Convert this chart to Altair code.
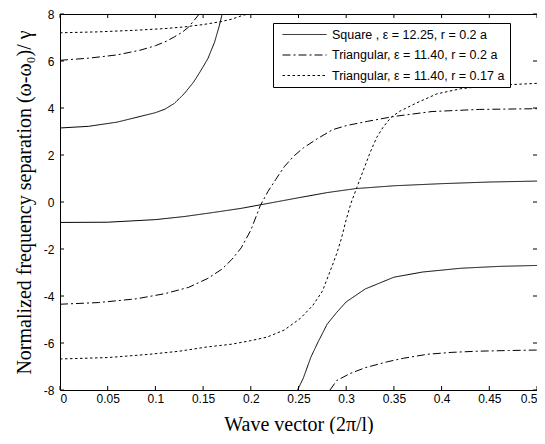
import altair as alt
import pandas as pd

SERIES = [
    "Square , ε = 12.25, r = 0.2 a",
    "Triangular, ε = 11.40, r = 0.2 a",
    "Triangular, ε = 11.40, r = 0.17 a",
]
XTICKS = [0, 0.05, 0.1, 0.15, 0.2, 0.25, 0.3, 0.35, 0.4, 0.45, 0.5]
YTICKS = [-8, -6, -4, -2, 0, 2, 4, 6, 8]

# Square lattice branches
sq_u_x = [0, 0.03, 0.06, 0.084, 0.1, 0.11, 0.12, 0.13, 0.14, 0.147, 0.155, 0.162, 0.167, 0.17]
sq_u_y = [3.15, 3.22, 3.4, 3.64, 3.8, 3.95, 4.2, 4.6, 5.1, 5.55, 6.1, 6.8, 7.5, 8.0]
sq_m_x = [0, 0.05, 0.1, 0.13, 0.16, 0.19, 0.21, 0.23, 0.25, 0.28, 0.31, 0.35, 0.4, 0.45, 0.5]
sq_m_y = [-0.87, -0.86, -0.75, -0.62, -0.45, -0.27, -0.12, 0.03, 0.18, 0.4, 0.57, 0.69, 0.78, 0.85, 0.89]
sq_l_x = [0.249, 0.255, 0.263, 0.27, 0.28, 0.29, 0.3, 0.32, 0.35, 0.38, 0.42, 0.46, 0.5]
sq_l_y = [-8.0, -7.5, -6.6, -6.0, -5.2, -4.7, -4.25, -3.7, -3.2, -2.98, -2.82, -2.74, -2.7]

# Triangular r = 0.2a branches
t2_u_x = [0, 0.03, 0.06, 0.085, 0.1, 0.112, 0.12, 0.128, 0.135, 0.141, 0.146]
t2_u_y = [6.03, 6.12, 6.26, 6.47, 6.65, 6.85, 7.03, 7.22, 7.45, 7.75, 8.0]
t2_m_x = [0, 0.04, 0.08, 0.11, 0.135, 0.155, 0.17, 0.18, 0.19, 0.2, 0.21, 0.218,
          0.226, 0.235, 0.245, 0.255, 0.27, 0.286, 0.3, 0.322, 0.35, 0.39, 0.44, 0.5]
t2_m_y = [-4.35, -4.28, -4.12, -3.9, -3.63, -3.25, -2.85, -2.45, -1.95, -1.2, -0.15, 0.45,
          0.95, 1.5, 1.95, 2.3, 2.7, 3.08, 3.25, 3.43, 3.64, 3.85, 3.94, 3.97]
t2_l_x = [0.283, 0.29, 0.304, 0.32, 0.343, 0.36, 0.385, 0.41, 0.437, 0.47, 0.5]
t2_l_y = [-8.0, -7.6, -7.3, -7.05, -6.8, -6.65, -6.48, -6.4, -6.35, -6.32, -6.3]

# Triangular r = 0.17a branches
t17_u_x = [0, 0.04, 0.08, 0.11, 0.13, 0.15, 0.168, 0.18, 0.192, 0.198]
t17_u_y = [7.2, 7.24, 7.31, 7.38, 7.45, 7.55, 7.67, 7.78, 7.95, 8.0]
t17_m_x = [0, 0.05, 0.094, 0.125, 0.154, 0.18, 0.2, 0.217, 0.235, 0.252, 0.265, 0.275,
           0.285, 0.29, 0.295, 0.3, 0.305, 0.311, 0.318, 0.325, 0.332, 0.339, 0.347,
           0.356, 0.374, 0.395, 0.42, 0.45, 0.5]
t17_m_y = [-6.68, -6.62, -6.48, -6.35, -6.17, -6.05, -5.9, -5.75, -5.45, -4.95, -4.4, -3.8,
           -2.75, -2.2, -1.55, -0.75, -0.05, 0.6, 1.35, 2.1, 2.75, 3.2, 3.6,
           3.86, 4.22, 4.6, 4.82, 4.95, 5.05]

branches = [
    (SERIES[0], "sq_u", sq_u_x, sq_u_y),
    (SERIES[0], "sq_m", sq_m_x, sq_m_y),
    (SERIES[0], "sq_l", sq_l_x, sq_l_y),
    (SERIES[1], "t2_u", t2_u_x, t2_u_y),
    (SERIES[1], "t2_m", t2_m_x, t2_m_y),
    (SERIES[1], "t2_l", t2_l_x, t2_l_y),
    (SERIES[2], "t17_u", t17_u_x, t17_u_y),
    (SERIES[2], "t17_m", t17_m_x, t17_m_y),
]
rows = []
for s, b, xs, ys in branches:
    for i, (x, y) in enumerate(zip(xs, ys)):
        rows.append({"series": s, "branch": b, "x": x, "y": y, "order": i})
df = pd.DataFrame(rows)

W, H = 477, 376
TL = 4
xscale = alt.Scale(domain=[0, 0.5], nice=False, zero=False)
yscale = alt.Scale(domain=[-8, 8], nice=False, zero=False)
x_axis = alt.Axis(values=XTICKS, title="Wave vector (2π/l)", format="~g",
                  ticks=False, tickSize=0, labelPadding=3, titlePadding=10)
y_axis = alt.Axis(values=YTICKS, title="Normalized frequency separation (ω-ω₀)/ γ",
                  labelExpr="datum.value + ''", ticks=False, tickSize=0,
                  labelPadding=6, titlePadding=9)

lines = alt.Chart(df).mark_line(strokeWidth=1, color="black", clip=True).encode(
    x=alt.X("x:Q", scale=xscale, axis=x_axis),
    y=alt.Y("y:Q", scale=yscale, axis=y_axis),
    strokeDash=alt.StrokeDash(
        "series:N",
        scale=alt.Scale(domain=SERIES, range=[[1, 0], [8, 3, 2, 3], [2.5, 2.5]]),
        legend=alt.Legend(orient="none", legendX=213, legendY=9, title=None,
                          fillColor="white", strokeColor="black", padding=5,
                          symbolType="stroke", symbolSize=1936, symbolStrokeWidth=1,
                          symbolStrokeColor="black", symbolOffset=4,
                          clipHeight=13, rowPadding=7.5,
                          labelFont="Liberation Sans", labelFontSize=12.5, labelOffset=5,
                          labelLimit=400, labelColor="black"),
    ),
    detail="branch:N",
    order="order:Q",
)

xt = pd.DataFrame({"x": XTICKS})
yt = pd.DataFrame({"y": YTICKS})
tick_x = alt.X("x:Q", scale=xscale, axis=x_axis)
tick_y = alt.Y("y:Q", scale=yscale, axis=y_axis)
bottom_ticks = alt.Chart(xt).mark_rule(color="black", strokeWidth=1).encode(
    x=tick_x, y=alt.value(H), y2=alt.value(H - TL))
top_ticks = alt.Chart(xt).mark_rule(color="black", strokeWidth=1).encode(
    x=tick_x, y=alt.value(0), y2=alt.value(TL))
left_ticks = alt.Chart(yt).mark_rule(color="black", strokeWidth=1).encode(
    y=tick_y, x=alt.value(0), x2=alt.value(TL))
right_ticks = alt.Chart(yt).mark_rule(color="black", strokeWidth=1).encode(
    y=tick_y, x=alt.value(W), x2=alt.value(W - TL))

chart = alt.layer(lines, bottom_ticks, top_ticks, left_ticks, right_ticks).properties(
    width=W, height=H,
    autosize=alt.AutoSizeParams(type="none"),
    padding={"left": 52, "top": 6, "right": 0, "bottom": 44},
).configure_view(
    stroke="black", strokeWidth=1
).configure_axis(
    domain=False, grid=False,
    labelFont="Liberation Sans", labelFontSize=12, labelColor="black",
    titleFont="Liberation Serif", titleFontSize=20, titleFontWeight="normal",
    titleColor="black",
)

chart.save("out.html", embed_options={"renderer": "svg", "actions": False})
